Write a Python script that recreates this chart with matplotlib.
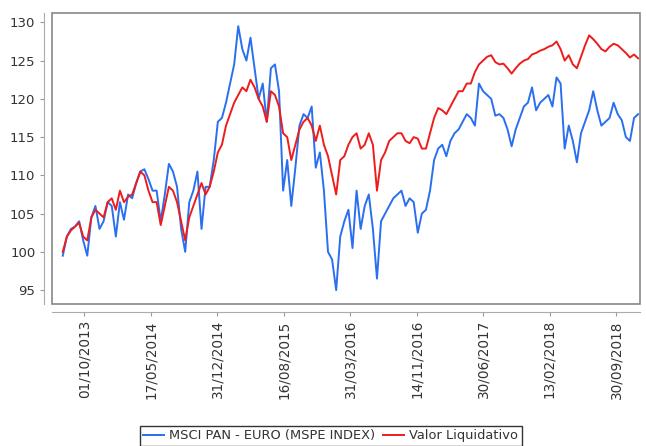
import matplotlib
matplotlib.use("Agg")
import matplotlib.pyplot as plt
from matplotlib.patches import Rectangle
import pandas as pd

# Fortnightly readings
dates = pd.date_range("2013-07-19", periods=142, freq="14D")

msci = [
    99.5, 102, 103, 103.3, 104, 101.5, 99.5, 104.5, 106, 103,
    104, 106.5, 106, 102, 106.5, 104.2, 107.5, 107, 109, 110.5,
    110.8, 109.5, 108, 108, 104, 107.5, 111.5, 110.5, 108.5, 103,
    100, 106.5, 108, 110.5, 103, 108.5, 108.5, 112, 117, 117.5,
    119.5, 122, 124.5, 129.5, 126.5, 125, 128, 124, 120, 122,
    117, 124, 124.5, 121, 108, 112, 106, 111, 116.5, 118,
    117.5, 119, 111, 113, 108, 100, 99, 95, 102, 104,
    105.5, 100.5, 108, 103, 106, 107.5, 103, 96.5, 104, 105,
    106, 107, 107.5, 108, 106, 107, 106.5, 102.5, 105, 105.5,
    108, 112, 113.5, 114, 112.5, 114.5, 115.5, 116, 117, 118,
    117.5, 116.5, 122, 121, 120.5, 120, 117.8, 118, 117.5, 116,
    113.8, 116, 117.5, 119, 119.5, 121.5, 118.5, 119.5, 120, 120.5,
    119, 122.8, 122, 113.5, 116.5, 114.5, 111.7, 115.5, 117, 118.5,
    121, 118.5, 116.5, 117, 117.5, 119.5, 118, 117.2, 115, 114.5,
    117.5, 118,
]

valor = [
    100, 102, 102.8, 103.3, 103.8, 102, 101.5, 104.5, 105.5, 105,
    104.5, 106.5, 107, 105.5, 108, 106.5, 107.2, 107.5, 109, 110.5,
    110, 108, 106.5, 106.5, 103.5, 106, 108.5, 108, 106.5, 104,
    101.5, 104.5, 106, 107.5, 109, 107.5, 108.5, 110.5, 113, 114,
    116.5, 118, 119.5, 120.5, 121.5, 121, 122.5, 121.5, 120, 119,
    117, 121, 120.5, 119, 115.5, 115, 112, 114, 116, 117,
    117.5, 116.5, 114.5, 116.5, 114, 112.5, 110, 107.5, 112, 112.5,
    114, 115, 115.5, 113.5, 114, 115.5, 114, 108, 112, 113,
    114.5, 115, 115.5, 115.5, 114.5, 114.2, 115, 114.8, 113.5, 113.5,
    115.5, 117.5, 118.8, 118.5, 118, 119, 120, 121, 121, 122,
    122, 123.5, 124.5, 125, 125.5, 125.7, 124.8, 124.5, 124.6, 124,
    123.3, 124, 124.6, 125, 125.2, 125.8, 126, 126.3, 126.5, 126.8,
    127, 127.5, 126.5, 125, 125.7, 124.5, 124, 125.5, 127, 128.3,
    127.8, 127.2, 126.5, 126.2, 126.8, 127.2, 127, 126.5, 126, 125.4,
    125.8, 125.3,
]

tick_dates = ["01/10/2013", "17/05/2014", "31/12/2014", "16/08/2015", "31/03/2016",
              "14/11/2016", "30/06/2017", "13/02/2018", "30/09/2018"]
y_ticks = [95, 100, 105, 110, 115, 120, 125, 130]

fig = plt.figure(figsize=(6.46, 4.46), dpi=100)
ax = fig.add_axes([0.0805, 0.3195, 0.910, 0.651])

ax.plot(dates, msci, color="#2a6ff0", lw=1.4, label="MSCI PAN - EURO (MSPE INDEX)")
ax.plot(dates, valor, color="#ee1c1c", lw=1.4, label="Valor Liquidativo")

ax.set_xlim(pd.Timestamp("2013-06-12"), pd.Timestamp("2018-12-20"))
ax.set_ylim(93.25, 131.2)

ticks = pd.to_datetime(tick_dates, format="%d/%m/%Y")
ax.set_xticks(ticks, tick_dates)
ax.set_yticks(y_ticks, [str(v) for v in y_ticks])
ax.tick_params(axis="x", labelrotation=90, labelsize=9.8, labelcolor="#333333")
ax.tick_params(axis="y", labelsize=9.5, labelcolor="#333333")

# frame around plot area, axes lines pushed outward
ax.add_patch(Rectangle((0, 0), 1, 1, transform=ax.transAxes, fill=False,
                       edgecolor="#888888", lw=1.2, clip_on=False, zorder=5))
for s in ["top", "right"]:
    ax.spines[s].set_visible(False)
for s in ["left", "bottom"]:
    ax.spines[s].set_position(("outward", 6))
    ax.spines[s].set_color("#aaaaaa")
ax.tick_params(axis="both", length=3, color="#999999", pad=3)

leg = ax.legend(loc="upper center", bbox_to_anchor=(0.474, -0.4), ncol=2,
                frameon=True, fancybox=False, fontsize=9.4, handlelength=1.6,
                handletextpad=0.4, columnspacing=0.6, borderpad=0.25)
leg.get_frame().set_edgecolor("black")
leg.get_frame().set_linewidth(1)
for t in leg.get_texts():
    t.set_color("#333333")

fig.savefig("out.png", dpi=100)
